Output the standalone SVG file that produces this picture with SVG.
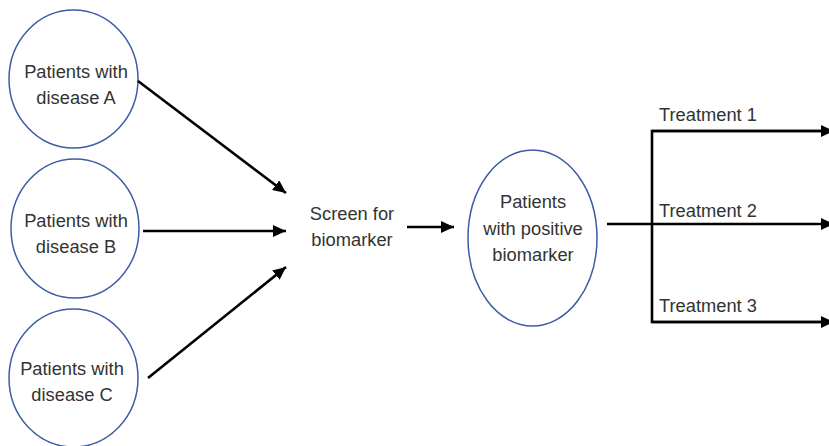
<svg xmlns="http://www.w3.org/2000/svg" width="829" height="446" viewBox="0 0 829 446">
<style>
.node ellipse{fill:#fff;stroke:#3c5da6;stroke-width:1.5}
text{font-family:"Liberation Sans",Arial,sans-serif;font-size:18.3px;fill:#333;text-anchor:middle}
.lbl{text-anchor:start}
.conn line,.conn path{stroke:#000;stroke-width:2.6;fill:none}
</style>
<defs>
<marker id="ah" markerUnits="userSpaceOnUse" markerWidth="14" markerHeight="12" refX="13" refY="6" orient="auto">
<path d="M0,0 L13,6 L0,12 Z" fill="#000"/>
</marker>
</defs>
<rect width="829" height="446" fill="#fff"/>
<g id="nodeA" class="node">
<ellipse cx="73.5" cy="79" rx="64.5" ry="69"/>
<text x="76" y="78">Patients with</text>
<text x="76" y="104">disease A</text>
</g>
<g id="nodeB" class="node">
<ellipse cx="75" cy="228.5" rx="64" ry="69.5"/>
<text x="76" y="227">Patients with</text>
<text x="76" y="253">disease B</text>
</g>
<g id="nodeC" class="node">
<ellipse cx="73.5" cy="378" rx="64.5" ry="69"/>
<text x="72" y="375">Patients with</text>
<text x="72" y="401">disease C</text>
</g>
<g id="screen" class="node">
<text x="352" y="220">Screen for</text>
<text x="352" y="246">biomarker</text>
</g>
<g id="positive" class="node">
<ellipse cx="532.5" cy="238" rx="64.5" ry="88"/>
<text x="533" y="208">Patients</text>
<text x="533" y="235">with positive</text>
<text x="533" y="261">biomarker</text>
</g>
<g id="treatments">
<text class="lbl" x="659" y="121">Treatment 1</text>
<text class="lbl" x="659" y="217">Treatment 2</text>
<text class="lbl" x="659" y="312">Treatment 3</text>
</g>
<g class="conn">
<line x1="138" y1="81" x2="286" y2="193" marker-end="url(#ah)"/>
<line x1="143" y1="231" x2="286" y2="231" marker-end="url(#ah)"/>
<line x1="148" y1="378" x2="286" y2="267" marker-end="url(#ah)"/>
<line x1="407" y1="227" x2="454" y2="227" marker-end="url(#ah)"/>
<line x1="607" y1="224" x2="834" y2="224" marker-end="url(#ah)"/>
<path d="M834,131 H652 V322 H834" />
<line x1="652" y1="131" x2="834" y2="131" marker-end="url(#ah)"/>
<line x1="652" y1="322" x2="834" y2="322" marker-end="url(#ah)"/>
</g>
</svg>
